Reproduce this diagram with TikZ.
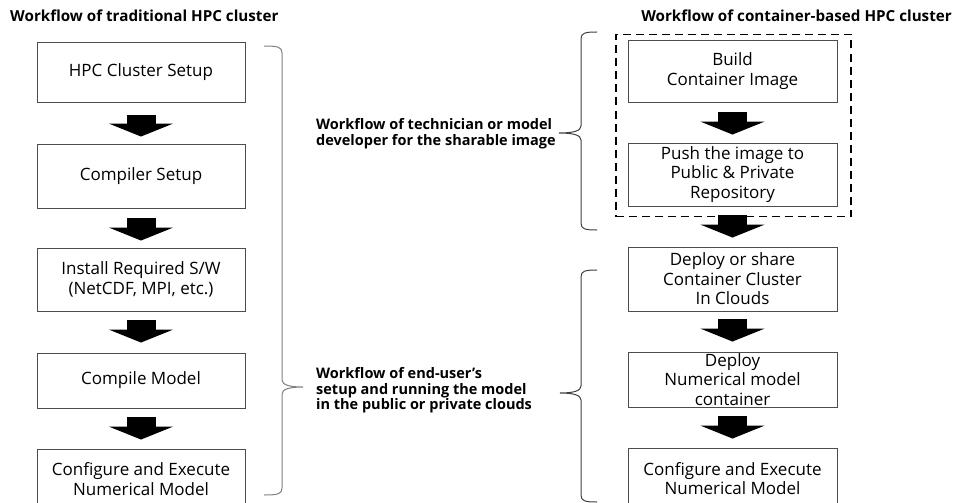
\documentclass[tikz,border=0pt]{standalone}
\usepackage{fontspec}
\setmainfont{Open Sans}
\usetikzlibrary{arrows.meta}
\tikzset{
  stepbox/.style={draw=black!70, line width=0.9pt, fill=white, align=center,
    font=\fontsize{17}{19.5}\selectfont, inner sep=0pt},
  lbox/.style={stepbox, minimum width=208pt},
  rbox/.style={stepbox, minimum width=209pt},
  bigarrow/.style={line width=29pt, -{Triangle[width=64pt,length=13pt]}, black},
  heading/.style={font=\fontsize{15.2}{17}\selectfont\bfseries, inner sep=0pt},
  note/.style={font=\fontsize{14.5}{15.5}\selectfont\bfseries, align=left, inner sep=0pt, anchor=west},
  bracket/.style={line width=1pt},
}
\begin{document}
\begin{tikzpicture}[x=1pt,y=-1pt]
\clip (0,0) rectangle (958,503);
\fill[white] (0,0) rectangle (958,503);

% column headings
\node[heading, anchor=west] (hl) at (10,16) {Workflow of traditional HPC cluster};
\node[heading, anchor=east] (hr) at (952,16) {Workflow of container-based HPC cluster};

% traditional workflow
\node[lbox, minimum height=60pt] (l1) at (141,72) {HPC Cluster Setup};
\node[lbox, minimum height=64pt] (l2) at (141,176) {Compiler Setup};
\node[lbox, minimum height=63pt] (l3) at (141,279.5) {Install Required S/W\\(NetCDF, MPI, etc.)};
\node[lbox, minimum height=55pt] (l4) at (141,380.5) {Compile Model};
\node[lbox, minimum height=60pt] (l5) at (141,479) {Configure and Execute\\Numerical Model};

% container-based workflow
\node[draw=black, dashed, line width=1.8pt, dash pattern=on 8pt off 5pt,
      minimum width=235pt, minimum height=182pt, inner sep=0pt] (grp) at (733.5,125.5) {};
\node[rbox, minimum height=62pt] (r1) at (732.5,71) {Build\\Container Image};
\node[rbox, minimum height=63pt] (r2) at (732.5,174.5) {Push the image to\\Public \& Private\\Repository};
\node[rbox, minimum height=64pt] (r3) at (732.5,279) {Deploy or share\\Container Cluster\\In Clouds};
\node[rbox, minimum height=55pt] (r4) at (732.5,379.5) {Deploy\\Numerical model\\container};
\node[rbox, minimum height=61pt] (r5) at (732.5,478.5) {Configure and Execute\\Numerical Model};

% block arrows
\draw[bigarrow, shorten <=13pt, shorten >=7pt] (l1.south) -- (l2.north);
\draw[bigarrow, shorten <=10pt, shorten >=7pt] (l2.south) -- (l3.north);
\draw[bigarrow, shorten <=9pt, shorten >=10pt] (l3.south) -- (l4.north);
\draw[bigarrow, shorten <=9pt, shorten >=9pt] (l4.south) -- (l5.north);
\draw[bigarrow, shorten <=10pt, shorten >=8pt] (r1.south) -- (r2.north);
\draw[bigarrow, shorten <=9pt, shorten >=9pt] (r2.south) -- (r3.north);
\draw[bigarrow, shorten <=8pt, shorten >=10pt] (r3.south) -- (r4.north);
\draw[bigarrow, shorten <=9pt, shorten >=9pt] (r4.south) -- (r5.north);

% role descriptions
\node[note] (n1) at (316,133.5) {Workflow of technician or model\\developer for the sharable image};
\node[note] (n2) at (316,390.5) {Workflow of end-user's\\setup and running the model\\in the public or private clouds};

% bracket around the traditional workflow
\draw[bracket, draw=black!50]
  (264,46) .. controls (278,46) and (282,47) .. (282,53) -- (282,380)
  .. controls (282,385) and (290,387) .. (303,387)
  .. controls (290,387) and (282,389) .. (282,394) -- (282,488)
  .. controls (282,494) and (278,495) .. (264,495);

% bracket around image preparation
\draw[bracket, draw=black!75]
  (597,32) .. controls (585,32) and (581,33) .. (581,39) -- (581,126)
  .. controls (581,131) and (573,133) .. (559,133)
  .. controls (573,133) and (581,135) .. (581,140) -- (581,223)
  .. controls (581,229) and (585,230) .. (597,230);

% bracket around the end-user steps
\draw[bracket, draw=black!75]
  (597,270) .. controls (585,270) and (581,271) .. (581,277) -- (581,386)
  .. controls (581,391) and (573,393) .. (560,393)
  .. controls (573,393) and (581,395) .. (581,400) -- (581,495)
  .. controls (581,501) and (585,502) .. (597,502);
\end{tikzpicture}
\end{document}
